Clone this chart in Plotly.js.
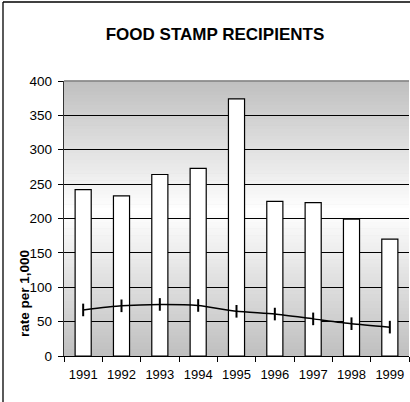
<!DOCTYPE html>
<html>
<head>
<meta charset="utf-8">
<script src="https://cdn.plot.ly/plotly-3.0.1.min.js"></script>
<style>html,body{margin:0;padding:0;background:#fff;overflow:hidden;}#chart{width:410px;height:402px;}</style>
</head>
<body>
<div id="chart"></div>
<script>
var years = ["1991","1992","1993","1994","1995","1996","1997","1998","1999"];
var recipients = [242, 233, 264, 273, 374, 225, 223, 199, 170];
var trend = [67, 73, 75, 73.5, 65, 61, 54, 47, 42];

var W = 410, H = 402, L = 64, R = 1, T = 81, B = 46;
var pw = W - L - R, ph = H - T - B;
function px2x(p){ return (p - L) / pw; }
function py2y(p){ return (H - B - p) / ph; }

var shapes = [];
var N = 80, c = 0.53;
for (var i = 0; i < N; i++) {
  var t0 = i / N, t1 = (i + 1) / N, tm = (t0 + t1) / 2;
  var d = tm > c ? (tm - c) / (1 - c) : (c - tm) / c;
  var v = Math.round(255 - 64 * d);
  shapes.push({type:'rect', xref:'paper', yref:'paper', x0:0, x1:1, y0:t0, y1:t1 + 0.002,
    fillcolor:'rgb('+v+','+v+','+v+')', line:{width:0}, layer:'below'});
}
// top border of plot area (grey)
shapes.push({type:'line', xref:'paper', yref:'paper', x0:0, x1:1, y0:1, y1:1, line:{color:'#808080', width:1.5}, layer:'below'});
// outer chart frame (left and top edges)
shapes.push({type:'line', xref:'paper', yref:'paper', x0:px2x(3), x1:px2x(3), y0:py2y(2), y1:py2y(402), line:{color:'#000', width:1.3}, layer:'above'});
shapes.push({type:'line', xref:'paper', yref:'paper', x0:px2x(3), x1:px2x(410), y0:py2y(2), y1:py2y(2), line:{color:'#000', width:1.3}, layer:'above'});

var data = [
  {type:'bar', x:years, y:recipients, marker:{color:'#ffffff', line:{color:'#000', width:1.2}}, hoverinfo:'none'},
  {type:'scatter', mode:'lines+markers', x:years, y:trend,
   line:{color:'#000', width:1.5, shape:'spline', smoothing:0.6},
   marker:{symbol:'line-ns', size:9, line:{color:'#000', width:2}}, hoverinfo:'none'}
];

var layout = {
  width: W, height: H,
  margin: {l:L, r:R, t:T, b:B, pad:0},
  paper_bgcolor:'#fff', plot_bgcolor:'#c0c0c0',
  showlegend:false,
  bargap:0.58,
  font:{family:'Liberation Sans, Arial, sans-serif', color:'#000'},
  title:{text:'<b>FOOD STAMP RECIPIENTS</b>', font:{size:17, color:'#000', family:'Liberation Sans, Arial, sans-serif'},
    xref:'container', yref:'container', x:215/W, y:1 - 34/H, xanchor:'center', yanchor:'middle'},
  xaxis:{type:'category', range:[-0.5, 8.5], tickson:'boundaries', ticks:'outside', ticklen:5, tickcolor:'#000', tickwidth:1,
    showline:true, linecolor:'#000', linewidth:1, showgrid:false, zeroline:false, tickangle:0,
    tickfont:{size:13, color:'#000'}, ticklabelstandoff:6},
  yaxis:{range:[0, 400], dtick:50, ticks:'outside', ticklen:5, tickcolor:'#000', tickwidth:1,
    showline:true, linecolor:'#333', linewidth:1.2, showgrid:true, gridcolor:'#000', gridwidth:1, zeroline:false,
    tickfont:{size:13.5, color:'#000'}, ticklabelstandoff:3},
  shapes: shapes,
  annotations:[{text:'<b>rate per 1,000</b>', xref:'paper', yref:'paper', x:px2x(24), y:py2y(294),
    xanchor:'center', yanchor:'middle', showarrow:false, textangle:-90, font:{size:13.5, color:'#000'}}]
};

Plotly.newPlot('chart', data, layout, {staticPlot:true});
</script>
</body>
</html>
